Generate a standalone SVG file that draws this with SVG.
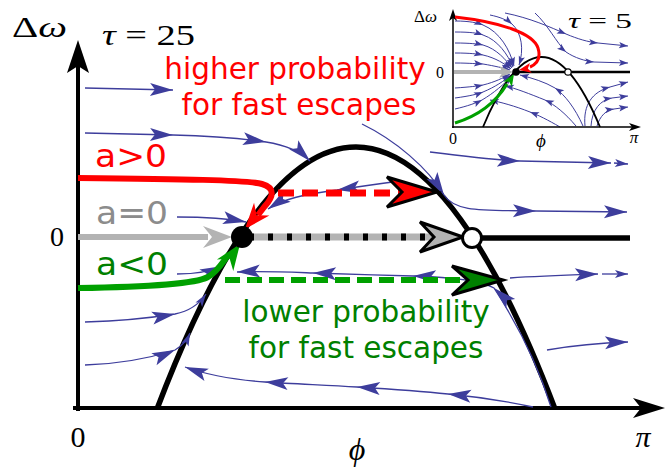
<svg xmlns="http://www.w3.org/2000/svg" width="672" height="470" viewBox="0 0 672 470">
<style>
.s{fill:none;stroke:#3d3d9c;stroke-width:1.3}
.si{fill:none;stroke:#3d3d9c;stroke-width:1}
.m{marker-mid:url(#ab);marker-end:url(#ab)}
.e{marker-end:url(#ab)}
.es{marker-end:url(#abs)}
.mi{marker-mid:url(#ai);marker-end:url(#ai)}
.math{font-family:"Liberation Serif","DejaVu Serif",serif;fill:#000}
.sans{font-family:"DejaVu Sans","Liberation Sans",sans-serif}
.big{stroke:#000;stroke-width:3;stroke-linejoin:miter}
</style>
<defs>
<marker id="ab" viewBox="-24 -8 25 16" refX="0" refY="0" markerWidth="25" markerHeight="16" markerUnits="userSpaceOnUse" orient="auto"><path d="M0,0 L-23,-6.5 L-18,0 L-23,6.5 Z" fill="#3d3d9c"/></marker>
<marker id="abs" viewBox="-14 -5 15 10" refX="0" refY="0" markerWidth="15" markerHeight="10" markerUnits="userSpaceOnUse" orient="auto"><path d="M0,0 L-13,-4 L-10,0 L-13,4 Z" fill="#3d3d9c"/></marker>
<marker id="ai" viewBox="-10 -4 11 8" refX="0" refY="0" markerWidth="11" markerHeight="8" markerUnits="userSpaceOnUse" orient="auto"><path d="M0,0 L-9,-3.2 L-7,0 L-9,3.2 Z" fill="#3d3d9c"/></marker>
</defs>
<rect width="672" height="470" fill="#fff"/>

<!-- main axes -->
<g id="main-axes">
<line x1="78" y1="411" x2="78" y2="62" stroke="#000" stroke-width="4"/>
<polygon points="78,40 67,73 78,66 89,73" fill="#000"/>
<line x1="73" y1="408" x2="645" y2="408" stroke="#000" stroke-width="4"/>
<polygon points="665,408 633,398 641,408 633,418" fill="#000"/>
</g>

<g id="main-labels">
<text class="math" x="12" y="37" font-size="30" textLength="55" lengthAdjust="spacingAndGlyphs">Δ<tspan font-style="italic">ω</tspan></text>
<text class="math" x="102" y="45" font-size="29" textLength="93" lengthAdjust="spacingAndGlyphs"><tspan font-style="italic">τ</tspan> = 25</text>
<text class="math" x="57" y="246" font-size="28" text-anchor="middle">0</text>
<text class="math" x="78" y="447" font-size="30" text-anchor="middle">0</text>
<text class="math" x="357" y="460" font-size="32" font-style="italic" text-anchor="middle">ϕ</text>
<text class="math" x="643" y="447" font-size="30" font-style="italic" text-anchor="middle">π</text>
</g>

<!-- nullcline parabola and zero line -->
<g id="nullcline">
<path d="M157,409 Q356,-115 555,409" fill="none" stroke="#000" stroke-width="5.5"/>
<line x1="472" y1="238" x2="630" y2="238" stroke="#000" stroke-width="5.5"/>
</g>

<g id="connectors">
<!-- streamlines -->
<path class="s e" d="M85,88 L173,90"/>
<path class="s m" d="M85,133 L173,135 C215,136 245,139 266,142 C285,145 300,151 310,161"/>
<path class="s m" d="M362,124 C395,140 428,168 444,195 C455,212 480,210 536,211 L627,212"/>
<path class="s m" d="M430,152 C470,157 495,160 520,161 L611,163"/>
<path class="s es" d="M614,163 L628,164"/>
<path class="s m" d="M400,181 C370,185 350,188 337,190 C305,194 283,199 268,209"/>
<path class="s e" d="M177,217 C200,217 225,218 246,222"/>
<path class="s e" d="M177,274 C195,274 212,271 223,266"/>
<path class="s m" d="M551,407 C538,365 518,325 494,288 C480,280 450,277 413,276 C380,275 345,274 313,273 C285,272 262,271 237,272"/>
<path class="s e" d="M510,278 C540,276 570,275 598,274"/>
<path class="s es" d="M602,274 L628,274"/>
<path class="s e" d="M547,350 C570,346 595,343 628,342"/>
<path class="s m" d="M533,407 C510,402 480,397 448,394 C420,391 390,389 357,387 C325,385 295,384 265,382 C238,380 210,376 185,367"/>
<path class="s" style="marker-mid:url(#ab);marker-end:url(#abs)" d="M85,322 C120,321 150,318 175,314 C190,311 200,303 206,294"/>
<path class="s" style="marker-mid:url(#ab);marker-end:url(#abs)" d="M85,365 C120,364 150,358 175,350 C182,346 187,340 190,333"/>

<!-- a=0 trajectory -->
<line x1="78" y1="237" x2="208" y2="237" stroke="#b3b3b3" stroke-width="6"/>
<polygon points="232,237 203,226 212,237 203,248" fill="#b3b3b3"/>
<line x1="250" y1="237" x2="435" y2="237" stroke="#b3b3b3" stroke-width="7"/>
<line x1="250" y1="237" x2="432" y2="237" stroke="#000" stroke-width="7" stroke-dasharray="5 14" stroke-dashoffset="1"/>
<polygon class="big" points="463,237 420,222 434,237 420,252" fill="#b3b3b3"/>

<!-- a>0 trajectory -->
<path d="M78,178 C180,179 248,180 262,184 C276,188 273,197 265,206 L258,215" fill="none" stroke="#f00" stroke-width="6"/>
<polygon points="0,0 -26,-10 -18,0 -26,10" fill="#f00" transform="translate(245,229) rotate(130)"/>
<line x1="278" y1="193" x2="400" y2="193" stroke="#f00" stroke-width="7" stroke-dasharray="16 8"/>
<polygon class="big" points="437,192 387,177 402,192 387,207" fill="#f00"/>

<!-- a<0 trajectory -->
<path d="M78,288 C150,287 195,284 208,277 C218,271 222,263 229,254" fill="none" stroke="#00a000" stroke-width="6"/>
<polygon points="0,0 -26,-10 -18,0 -26,10" fill="#00a000" transform="translate(240,244) rotate(-55)"/>
<line x1="225" y1="280" x2="466" y2="280" stroke="#00a000" stroke-width="6" stroke-dasharray="15 7"/>
<polygon class="big" points="503,280 452,266 468,280 452,295" fill="#008000"/>
</g>

<g id="stable-point"><circle cx="242" cy="237" r="11" fill="#000"/></g>
<g id="saddle-point"><circle cx="472" cy="238" r="9.5" fill="#fff" stroke="#000" stroke-width="3"/></g>

<g id="traj-labels" class="sans">
<text x="95" y="167" font-size="32" fill="#f00" textLength="72" lengthAdjust="spacingAndGlyphs">a&gt;0</text>
<text x="96" y="224" font-size="32" fill="#8c8c8c" textLength="72" lengthAdjust="spacingAndGlyphs">a=0</text>
<text x="96" y="275" font-size="32" fill="#008000" textLength="72" lengthAdjust="spacingAndGlyphs">a&lt;0</text>
</g>

<g id="higher-label" class="sans" fill="#f00" font-size="29.5" text-anchor="middle">
<text x="295" y="79">higher probability</text>
<text x="299" y="115">for fast escapes</text>
</g>
<g id="lower-label" class="sans" fill="#008000" font-size="29.5" text-anchor="middle">
<text x="366" y="322">lower probability</text>
<text x="366" y="358">for fast escapes</text>
</g>

<!-- inset tau=5 -->
<g id="inset">
<g id="inset-streams">
<path class="si mi" d="M455,21 C470,21 478,23 483,25 C500,32 510,50 514,66"/>
<path class="si mi" d="M455,32 C470,32 478,33 483,35 C498,40 508,55 513,67"/>
<path class="si mi" d="M455,43 C470,43 478,44 483,45 C497,49 506,60 512,68"/>
<path class="si mi" d="M455,53 C470,53 478,54 483,55 C496,58 505,64 511,69"/>
<path class="si mi" d="M455,63 C470,63 478,64 483,64 C495,66 503,68 510,70"/>
<path class="si mi" d="M455,88 C470,87 478,86 483,85 C495,82 503,78 510,74"/>
<path class="si mi" d="M455,98 C470,96 478,94 483,92 C495,87 504,81 511,75"/>
<path class="si mi" d="M455,109 C468,106 476,103 482,100 C494,93 504,84 512,76"/>
<path class="si mi" d="M490,15 C500,17 507,20 512,24 C522,33 524,50 519,65"/>
<path class="si mi" d="M505,13 C530,18 550,27 566,34 C578,39 588,42 598,43 L628,46"/>
<path class="si mi" d="M535,13 C548,25 556,42 566,52 C575,58 585,61 594,62 L628,63"/>
<path class="si mi" d="M585,126 C583,105 592,92 610,87 L628,82"/>
<path class="si mi" d="M591,126 C592,110 600,100 612,98 L628,96"/>
<path class="si mi" d="M597,126 C600,116 606,110 614,109 L628,107"/>
<path class="si mi" d="M583,126 C575,108 565,95 555,88 C545,82 532,78 520,75"/>
<path class="si mi" d="M576,126 C565,113 555,105 545,100 C530,94 515,88 505,86"/>
<path class="si mi" d="M560,127 C548,120 538,115 530,112 C515,106 500,102 490,100"/>
</g>
<line x1="453" y1="128" x2="453" y2="18" stroke="#000" stroke-width="1.5"/>
<polygon points="453,9 449,21 453,18 457,21" fill="#000"/>
<line x1="452" y1="127" x2="634" y2="127" stroke="#000" stroke-width="1.5"/>
<polygon points="641,127 629,123 632,127 629,131" fill="#000"/>
<path d="M483,127 Q541.5,-13 600,127" fill="none" stroke="#000" stroke-width="1.8"/>
<line x1="517" y1="72" x2="630" y2="72" stroke="#000" stroke-width="2.5"/>
<line x1="454" y1="72" x2="503" y2="72" stroke="#b3b3b3" stroke-width="4"/>
<polygon points="513,72 499,66 503,72 499,78" fill="#b3b3b3"/>
<path d="M455,17 C500,22 533,33 538,48 C541,58 537,64 530,67" fill="none" stroke="#f00" stroke-width="3"/>
<polygon points="0,0 -12,-5 -9,0 -12,5" fill="#f00" transform="translate(519,70) rotate(170)"/>
<path d="M455,123 C478,116 496,102 507,84" fill="none" stroke="#00a000" stroke-width="3.2"/>
<polygon points="0,0 -12,-5 -9,0 -12,5" fill="#00a000" transform="translate(514,74) rotate(-58)"/>
<circle cx="516" cy="72" r="3.8" fill="#000"/>
<circle cx="568" cy="72" r="3.2" fill="#fff" stroke="#000" stroke-width="1.2"/>
<text class="math" x="414" y="22" font-size="17">Δ<tspan font-style="italic">ω</tspan></text>
<text class="math" x="440" y="78" font-size="16" text-anchor="middle">0</text>
<text class="math" x="453" y="144" font-size="16" text-anchor="middle">0</text>
<text class="math" x="541" y="147" font-size="19" font-style="italic" text-anchor="middle">ϕ</text>
<text class="math" x="634" y="143" font-size="17" font-style="italic" text-anchor="middle">π</text>
<text class="math" x="568" y="28" font-size="22" textLength="64" lengthAdjust="spacingAndGlyphs"><tspan font-style="italic">τ</tspan> = 5</text>
</g>
</svg>
